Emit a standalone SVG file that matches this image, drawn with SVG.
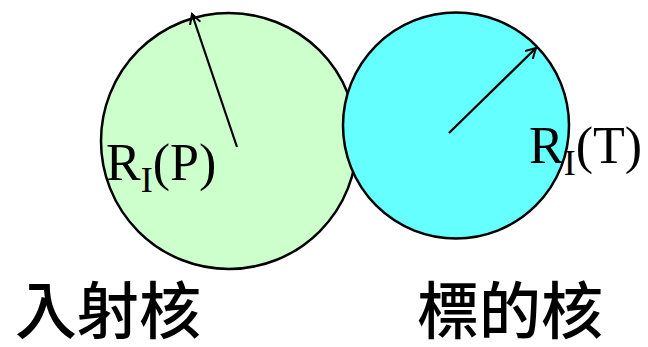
<svg xmlns="http://www.w3.org/2000/svg" width="648" height="347" viewBox="0 0 648 347">
<defs>
<marker id="arr" markerWidth="12" markerHeight="12" refX="10" refY="6" orient="auto" markerUnits="userSpaceOnUse">
<polyline points="0,0.5 10,6 0,11.5" fill="none" stroke="#000" stroke-width="2"/>
</marker>
<style>
.nuc{stroke:#000;stroke-width:2.5}
.rad{stroke:#000;stroke-width:2.2;fill:none;marker-end:url(#arr)}
.lbl{font-family:"Liberation Serif","Times New Roman",serif;font-size:52px;fill:#000}
.sub{font-size:36px}
.cjk{font-family:"Liberation Sans","Noto Sans CJK TC","Noto Sans CJK JP",sans-serif;font-size:62px;font-weight:500;fill:#000}
</style>
</defs>
<rect width="648" height="347" fill="#fff"/>
<g id="projectile">
<circle class="nuc" cx="229" cy="141" r="128" fill="#CCFFCC"/>
</g>
<g id="target">
<circle class="nuc" cx="456" cy="125.5" r="113" fill="#66FFFF"/>
</g>
<g id="connectors">
<line class="rad" x1="237" y1="147" x2="192" y2="14"/>
<line class="rad" x1="449" y1="133" x2="536" y2="48"/>
</g>
<g id="labels">
<text class="lbl" x="106" y="180">R<tspan class="sub" dy="12">I</tspan><tspan dy="-12">(P)</tspan></text>
<text class="lbl" x="529" y="163">R<tspan class="sub" dy="12">I</tspan><tspan dy="-12">(T)</tspan></text>
<text class="cjk" x="15" y="334">入射核</text>
<text class="cjk" x="417" y="334">標的核</text>
</g>
</svg>
